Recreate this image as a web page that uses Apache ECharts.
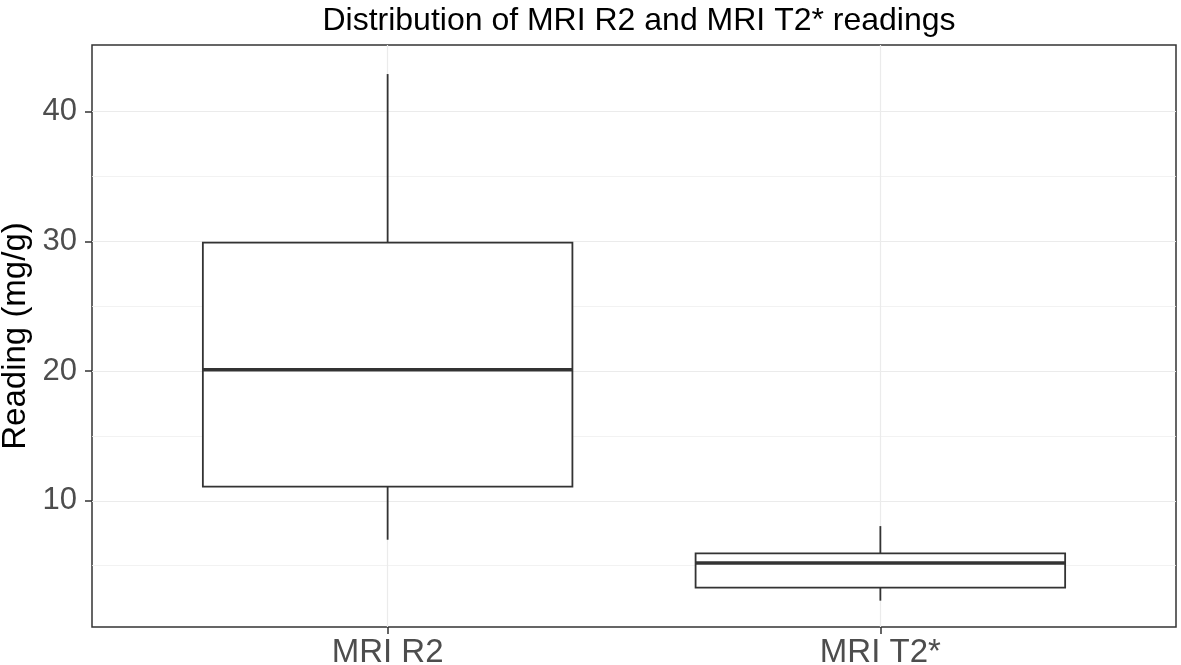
<!DOCTYPE html>
<html>
<head>
<meta charset="utf-8">
<script src="https://cdn.jsdelivr.net/npm/echarts@6/dist/echarts.min.js"></script>
<style>
  html, body { margin: 0; padding: 0; background: #fff; }
  #myChart { width: 1181px; height: 665px; }
</style>
</head>
<body>
<div id="myChart"></div>
<script>
// box statistics
var categories = ['MRI R2', 'MRI T2*'];
var lowerWhisker = [7.0, 2.3];
var lowerHinge = [11.1, 3.3];
var medians = [20.1, 5.2];
var upperHinge = [29.9, 5.95];
var upperWhisker = [42.9, 8.05];

var yTicks = [10, 20, 30, 40];
var yMinorTicks = [5, 15, 25, 35];

window.onload = function () {
    var myChart = echarts.init(document.getElementById('myChart'));

    var boxData = categories.map(function (c, i) {
        return [i + 1, lowerWhisker[i], lowerHinge[i], medians[i], upperHinge[i], upperWhisker[i]];
    });

    function renderBox(params, api) {
        var x = api.value(0);
        var pLo = api.coord([x, api.value(1)]);
        var pQ1 = api.coord([x, api.value(2)]);
        var pMed = api.coord([x, api.value(3)]);
        var pQ3 = api.coord([x, api.value(4)]);
        var pHi = api.coord([x, api.value(5)]);
        var halfW = api.size([0.75, 0])[0] / 2;
        var stroke = { stroke: '#333333', lineWidth: 1.8, fill: null };
        return {
            type: 'group',
            children: [
                { type: 'line', shape: { x1: pHi[0], y1: pHi[1], x2: pQ3[0], y2: pQ3[1] }, style: stroke },
                { type: 'line', shape: { x1: pLo[0], y1: pLo[1], x2: pQ1[0], y2: pQ1[1] }, style: stroke },
                {
                    type: 'rect',
                    shape: { x: pQ3[0] - halfW, y: pQ3[1], width: halfW * 2, height: pQ1[1] - pQ3[1] },
                    style: { stroke: '#333333', lineWidth: 1.8, fill: '#ffffff' }
                },
                {
                    type: 'line',
                    shape: { x1: pMed[0] - halfW, y1: pMed[1], x2: pMed[0] + halfW, y2: pMed[1] },
                    style: { stroke: '#333333', lineWidth: 3.4 }
                }
            ]
        };
    }

    var option = {
        animation: false,
        title: {
            text: 'Distribution of MRI R2 and MRI T2* readings',
            left: 634,
            textAlign: 'center',
            top: 0,
            textStyle: {
                fontFamily: 'Liberation Sans',
                fontWeight: 'normal',
                fontSize: 32,
                color: '#000000'
            }
        },
        grid: {
            left: 92,
            right: 5,
            top: 45,
            bottom: 38,
            outerBoundsMode: 'none',
            containLabel: false,
            show: true,
            borderColor: '#333333',
            borderWidth: 1.5,
            backgroundColor: '#ffffff'
        },
        xAxis: {
            type: 'value',
            min: 0.4,
            max: 2.6,
            axisLine: { show: false },
            axisTick: {
                show: true,
                customValues: [1, 2],
                length: 7,
                lineStyle: { color: '#333333', width: 1.5 }
            },
            axisLabel: {
                customValues: [1, 2],
                margin: 9,
                fontFamily: 'Liberation Sans',
                fontSize: 33,
                color: '#4D4D4D',
                formatter: function (v) { return categories[Math.round(v) - 1]; }
            },
            splitLine: {
                show: true,
                customValues: [1, 2],
                lineStyle: { color: '#EBEBEB', width: 1.2 }
            }
        },
        yAxis: [{
            type: 'value',
            min: 0.27,
            max: 45.14,
            name: 'Reading (mg/g)',
            nameLocation: 'middle',
            nameRotate: 90,
            nameGap: 60,
            nameMoveOverlap: false,
            nameTextStyle: {
                fontFamily: 'Liberation Sans',
                fontSize: 33,
                color: '#000000'
            },
            axisLine: { show: false },
            axisTick: {
                show: true,
                customValues: yTicks,
                length: 7,
                lineStyle: { color: '#333333', width: 1.5 }
            },
            axisLabel: {
                customValues: yTicks,
                margin: 15,
                fontFamily: 'Liberation Sans',
                fontSize: 31,
                color: '#4D4D4D'
            },
            splitLine: {
                show: true,
                customValues: yTicks,
                lineStyle: { color: '#EBEBEB', width: 1.2 }
            }
        }, {
            type: 'value',
            position: 'left',
            min: 0.27,
            max: 45.14,
            axisLine: { show: false },
            axisTick: { show: false, customValues: yMinorTicks },
            axisLabel: { show: false, customValues: yMinorTicks },
            splitLine: {
                show: true,
                customValues: yMinorTicks,
                lineStyle: { color: '#EFEFEF', width: 0.8 }
            }
        }],
        series: [{
            type: 'custom',
            name: 'readings',
            renderItem: renderBox,
            encode: { x: 0, y: [1, 2, 3, 4, 5] },
            data: boxData,
            z: 10
        }]
    };

    myChart.setOption(option);
};
</script>
</body>
</html>
